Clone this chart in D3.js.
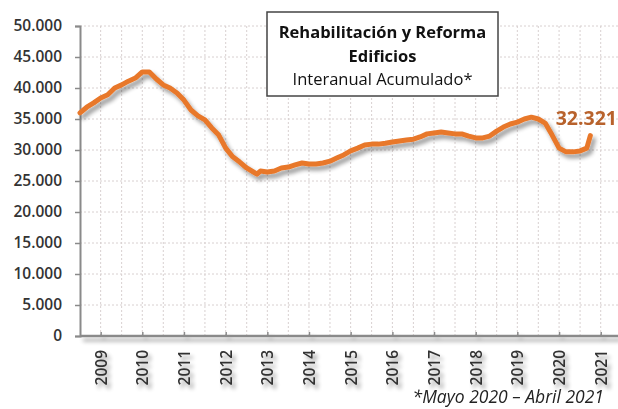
<!DOCTYPE html>
<html>
<head>
<meta charset="utf-8">
<script src="https://cdn.jsdelivr.net/npm/d3@7"></script>
<style>
  body { margin: 0; background: #fff; }
  svg { display: block; font-family: "Open Sans", "Noto Sans", sans-serif; }
</style>
</head>
<body>
<svg width="618" height="409"></svg>
<script>
// data, every 2 months from Jan 2009 to Apr 2021
var months = ["2009-01","2009-03","2009-05","2009-07","2009-09","2009-11",
  "2010-01","2010-03","2010-05","2010-07","2010-09","2010-11",
  "2011-01","2011-03","2011-05","2011-07","2011-09","2011-11",
  "2012-01","2012-03","2012-05","2012-07","2012-09","2012-11",
  "2013-01","2013-03","2013-04","2013-05","2013-07","2013-09","2013-11",
  "2014-01","2014-03","2014-05","2014-07","2014-09","2014-11",
  "2015-01","2015-03","2015-05","2015-07","2015-09","2015-11",
  "2016-01","2016-03","2016-05","2016-07","2016-09","2016-11",
  "2017-01","2017-03","2017-05","2017-07","2017-09","2017-11",
  "2018-01","2018-03","2018-05","2018-07","2018-09","2018-11",
  "2019-01","2019-03","2019-05","2019-07","2019-09","2019-11",
  "2020-01","2020-03","2020-05","2020-07","2020-09","2020-11",
  "2021-01","2021-03","2021-04"];
var values = [36000,36900,37600,38400,38900,40000,
  40500,41100,41600,42600,42600,41450,
  40500,40000,39200,38050,36450,35500,
  34850,33550,32400,30300,28900,28050,
  27100,26450,26100,26600,26450,26600,27100,
  27250,27600,27900,27750,27750,27900,
  28200,28700,29200,29850,30300,30800,
  30950,30950,31100,31300,31450,31600,
  31750,32100,32600,32750,32900,32750,
  32600,32600,32250,31950,31950,32250,
  33050,33700,34200,34500,35000,35300,
  35000,34350,32400,30300,29700,29700,
  29850,30300,32321];
var yearLabels = ["2009","2010","2011","2012","2013","2014","2015","2016","2017","2018","2019","2020","2021"];
var yTicks = [0,5000,10000,15000,20000,25000,30000,35000,40000,45000,50000];
var titleLines = ["Rehabilitación y Reforma", "Edificios", "Interanual Acumulado*"];
var lastLabel = "32.321";
var footnote = "*Mayo 2020 \u2013 Abril 2021";

var parseMonth = d3.timeParse("%Y-%m");
var data = months.map(function(m, i){ return {date: parseMonth(m), value: values[i]}; });

var svg = d3.select("svg");
var x0 = 80, y0 = 336, yTop = 26;

var xScale = d3.scaleTime()
  .domain([new Date(2009, 0, 1), new Date(2022, 0, 1)])
  .range([x0, x0 + 13 * 41.67]);
var yScale = d3.scaleLinear().domain([0, 50000]).range([y0, yTop]);

var defs = svg.append("defs");
var f = defs.append("filter").attr("id", "shadow")
  .attr("x", "-10%").attr("y", "-20%").attr("width", "130%").attr("height", "160%");
f.append("feGaussianBlur").attr("in", "SourceAlpha").attr("stdDeviation", 2).attr("result", "b");
f.append("feOffset").attr("in", "b").attr("dx", 3).attr("dy", 4).attr("result", "o");
f.append("feComponentTransfer").attr("in", "o").attr("result", "s")
  .append("feFuncA").attr("type", "linear").attr("slope", 0.4);
var fm = f.append("feMerge");
fm.append("feMergeNode").attr("in", "s");
fm.append("feMergeNode").attr("in", "SourceGraphic");

// grid
var halfYears = [];
for (var yr = 2009; yr <= 2021; yr++) {
  halfYears.push(new Date(yr, 6, 1));
  halfYears.push(new Date(yr + 1, 0, 1));
}
svg.append("g").selectAll("line").data(halfYears).join("line")
  .attr("x1", d => xScale(d)).attr("x2", d => xScale(d))
  .attr("y1", yTop).attr("y2", y0)
  .attr("stroke", "#d8d0d0").attr("stroke-width", 1).attr("stroke-dasharray", "2,2");
svg.append("g").selectAll("line").data(yTicks.slice(1)).join("line")
  .attr("x1", x0).attr("x2", 618)
  .attr("y1", d => yScale(d)).attr("y2", d => yScale(d))
  .attr("stroke", "#d8d0d0").attr("stroke-width", 1).attr("stroke-dasharray", "2,2");

// y axis
var yAxis = svg.append("g").attr("transform", `translate(${x0},0)`)
  .call(d3.axisLeft(yScale).tickValues(yTicks).tickSize(5).tickPadding(13)
    .tickFormat(d => d3.format(",")(d).replace(/,/g, ".")));
yAxis.select(".domain").attr("stroke", "#8a8a8a").attr("stroke-width", 2);
yAxis.selectAll(".tick line").attr("stroke", "#8a8a8a").attr("stroke-width", 1.5);
yAxis.selectAll("text").attr("fill", "#333").attr("font-size", 15.5).attr("font-weight", 600)
  .attr("font-family", "'Open Sans', sans-serif");

// line
var line = d3.line().x(d => xScale(d.date)).y(d => yScale(d.value));
svg.append("path").datum(data)
  .attr("fill", "none").attr("stroke", "#e8782c").attr("stroke-width", 5)
  .attr("stroke-linejoin", "round").attr("stroke-linecap", "round")
  .attr("filter", "url(#shadow)")
  .attr("d", line);

// x axis
var xAxis = svg.append("g").attr("transform", `translate(0,${y0})`)
  .attr("filter", "url(#shadow)")
  .call(d3.axisBottom(xScale)
    .tickValues(yearLabels.map(y => new Date(+y, 6, 1)))
    .tickSize(-4)
    .tickFormat((d, i) => yearLabels[i]));
xAxis.select(".domain").attr("stroke", "#8a8a8a").attr("stroke-width", 2.5)
  .attr("d", `M${x0},0H618`);
xAxis.selectAll(".tick line").attr("stroke", "#8a8a8a").attr("stroke-width", 1.5);
xAxis.selectAll("text")
  .attr("transform", "rotate(-90)")
  .attr("text-anchor", "end")
  .attr("x", -14).attr("y", 0).attr("dy", "0.35em")
  .attr("fill", "#333").attr("font-size", 15.5).attr("font-weight", 600)
  .attr("font-family", "'Open Sans', sans-serif");

// title box
var box = svg.append("g");
box.append("rect").attr("x", 267).attr("y", 12).attr("width", 231).attr("height", 84)
  .attr("fill", "#fff").attr("stroke", "#444").attr("stroke-width", 1.5);
box.selectAll("text").data(titleLines).join("text")
  .attr("x", 382.5).attr("y", (d, i) => 38 + i * 23.5)
  .attr("text-anchor", "middle")
  .attr("font-size", 16.5)
  .attr("font-weight", (d, i) => i < 2 ? 700 : 400)
  .attr("fill", "#111")
  .text(d => d);

// last value label
svg.append("text")
  .attr("x", 617).attr("y", 125).attr("text-anchor", "end")
  .attr("font-size", 19.5).attr("font-weight", 700).attr("fill", "#b8622c")
  .text(lastLabel);

// footnote
svg.append("text")
  .attr("x", 604).attr("y", 403).attr("text-anchor", "end")
  .attr("font-size", 17.5).attr("font-style", "italic").attr("fill", "#222")
  .text(footnote);
</script>
</body>
</html>
